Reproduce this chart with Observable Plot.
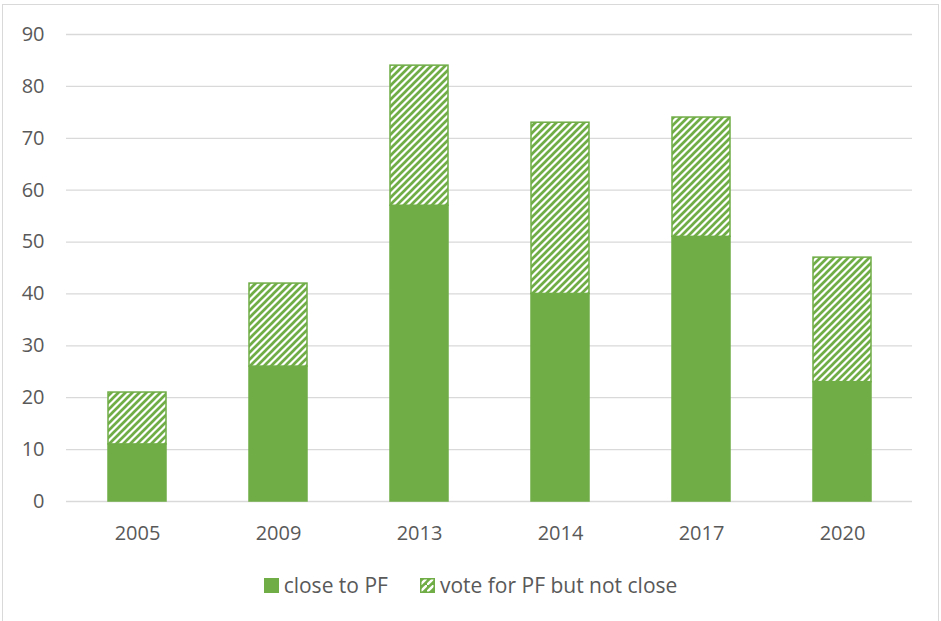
<!DOCTYPE html>
<html>
<head>
<meta charset="utf-8">
<script src="https://cdn.jsdelivr.net/npm/d3@7"></script>
<script src="https://cdn.jsdelivr.net/npm/@observablehq/plot@0.6"></script>
<style>
  html, body { margin: 0; padding: 0; background: #fff; overflow: hidden; }
  #wrap { position: relative; width: 941px; height: 621px; font-family: "Open Sans", sans-serif; color: #595959; }
  #frame { position: absolute; left: 2px; top: 4px; width: 937px; height: 700px; border: 1px solid #D9D9D9; box-sizing: border-box; }
  #chart { position: absolute; left: 0; top: 0; }
  #legend { position: absolute; left: 0; top: 571px; width: 941px; display: flex; justify-content: center; align-items: center; font-size: 21px; color: #595959; }
  .item { display: flex; align-items: center; margin: 0 16px; }
</style>
</head>
<body>
<div id="wrap">
  <div id="frame"></div>
  <div id="chart"></div>
  <div id="legend"></div>
</div>
<script>
// Survey years and the two stacked groups of respondents
const years = ["2005", "2009", "2013", "2014", "2017", "2020"];
const closeToPF = [11, 26, 57, 40, 51, 23];
const voteNotClose = [10, 16, 27, 33, 23, 24];
const seriesNames = ["close to PF", "vote for PF but not close"];
const yTicks = [0, 10, 20, 30, 40, 50, 60, 70, 80, 90];

const green = "#70AD47";

const rows = [];
years.forEach((year, i) => {
  rows.push({year, series: seriesNames[0], value: closeToPF[i]});
  rows.push({year, series: seriesNames[1], value: voteNotClose[i]});
});

const chart = Plot.plot({
  width: 941,
  height: 560,
  marginLeft: 66,
  marginRight: 29,
  marginTop: 34,
  marginBottom: 59,
  style: {fontFamily: "'Open Sans', sans-serif", fontSize: "20px", color: "#595959", background: "transparent"},
  x: {domain: years, paddingInner: 0.59, paddingOuter: 0.295, label: null, tickSize: 0, tickPadding: 24},
  y: {domain: [0, 90], ticks: yTicks, label: null, tickSize: 0, tickPadding: 22},
  color: {domain: seriesNames, range: [green, "url(#hatch)"]},
  marks: [
    Plot.gridY(yTicks, {stroke: "#D9D9D9", strokeOpacity: 1, strokeWidth: 1.3}),
    Plot.barY(rows, {x: "year", y: "value", fill: "series", stroke: green, strokeWidth: 1.5})
  ]
});

// Diagonal hatch used for the second series
const svg = d3.select(chart);
const defs = svg.insert("defs", ":first-child");
const pat = defs.append("pattern")
  .attr("id", "hatch")
  .attr("patternUnits", "userSpaceOnUse")
  .attr("width", 7).attr("height", 7);
pat.append("rect").attr("width", 7).attr("height", 7).attr("fill", "#fff");
pat.append("path")
  .attr("d", "M-1.75,1.75 L1.75,-1.75 M0,7 L7,0 M5.25,8.75 L8.75,5.25")
  .attr("stroke", green).attr("stroke-width", 2.7);

document.getElementById("chart").appendChild(chart);

// Legend below the plot
const legend = d3.select("#legend");
const swatchSvg = (hatched) => {
  const s = d3.create("svg").attr("width", 15).attr("height", 15).style("margin-right", "5px");
  if (hatched) {
    const p = s.append("defs").append("pattern").attr("id", "hatchLegend")
      .attr("patternUnits", "userSpaceOnUse").attr("width", 7).attr("height", 7);
    p.append("rect").attr("width", 7).attr("height", 7).attr("fill", green);
    p.append("path").attr("d", "M0,7 L7,0")
      .attr("stroke", "#fff").attr("stroke-width", 2.4);
    s.append("rect").attr("x", 0.75).attr("y", 0.75).attr("width", 13.5).attr("height", 13.5)
      .attr("fill", "url(#hatchLegend)").attr("stroke", green).attr("stroke-width", 1.5);
  } else {
    s.append("rect").attr("width", 15).attr("height", 15).attr("fill", green);
  }
  return s.node();
};
seriesNames.forEach((name, i) => {
  const item = legend.append("div").attr("class", "item");
  item.node().appendChild(swatchSvg(i === 1));
  item.append("span").text(name);
});
</script>
</body>
</html>
